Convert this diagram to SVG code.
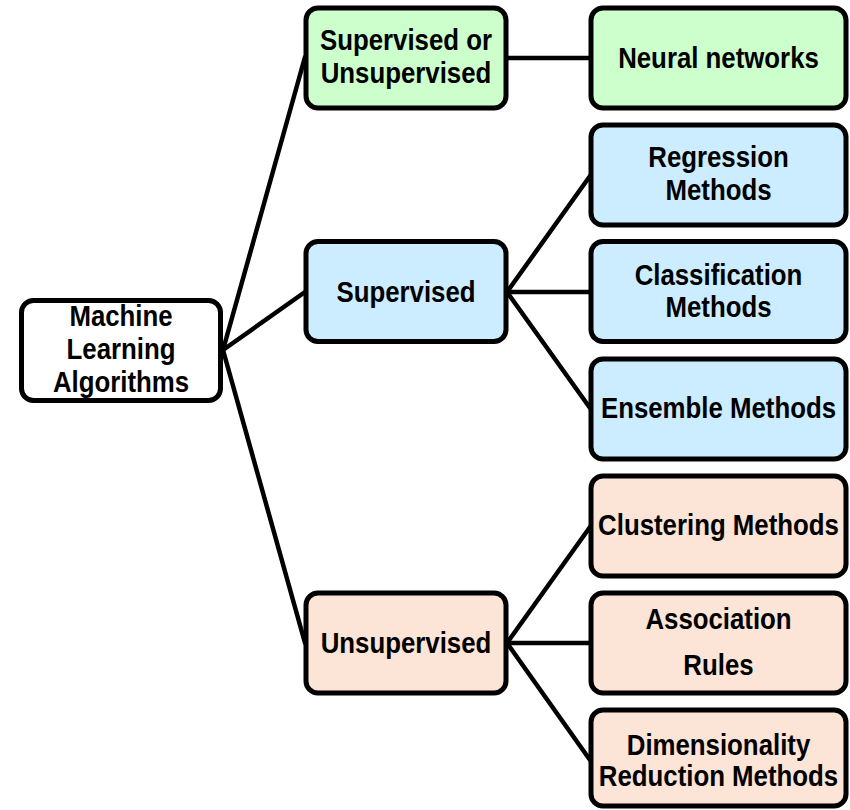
<svg xmlns="http://www.w3.org/2000/svg" width="850" height="810" viewBox="0 0 850 810">
<style>
.box{stroke:#000;stroke-width:5}
.root{fill:#FFFFFF}
.g{fill:#CCFFCC}
.b{fill:#CCECFF}
.p{fill:#FCE4D6}
.t{font-family:"Liberation Sans",Arial,sans-serif;font-weight:bold;font-size:29px;fill:#000;text-anchor:middle}
.c{stroke:#000;stroke-width:4.5;fill:none;stroke-linecap:round}
</style>
<rect width="850" height="810" fill="#FFFFFF"/>
<g id="connectors">
<line class="c" x1="223" y1="350" x2="305" y2="57"/>
<line class="c" x1="223" y1="350" x2="305" y2="292"/>
<line class="c" x1="223" y1="350" x2="305" y2="643"/>
<line class="c" x1="507" y1="58" x2="590" y2="58"/>
<line class="c" x1="507" y1="292" x2="590" y2="176"/>
<line class="c" x1="507" y1="292" x2="590" y2="292"/>
<line class="c" x1="507" y1="292" x2="590" y2="408"/>
<line class="c" x1="507" y1="643" x2="590" y2="527"/>
<line class="c" x1="507" y1="643" x2="590" y2="643"/>
<line class="c" x1="507" y1="643" x2="590" y2="760"/>
</g>
<g id="root">
<rect class="box root" x="21.5" y="300.5" width="199" height="100" rx="12"/>
<text class="t" transform="translate(121,0) scale(0.89,1)"><tspan x="0" y="326">Machine</tspan><tspan x="0" y="359">Learning</tspan><tspan x="0" y="392">Algorithms</tspan></text>
</g>
<g id="supervised-or-unsupervised">
<rect class="box g" x="306" y="8" width="200" height="100" rx="12"/>
<text class="t" transform="translate(406,0) scale(0.89,1)"><tspan x="0" y="50">Supervised or</tspan><tspan x="0" y="83">Unsupervised</tspan></text>
</g>
<g id="neural-networks">
<rect class="box g" x="591" y="8" width="255" height="100" rx="12"/>
<text class="t" transform="translate(718.5,0) scale(0.89,1)" x="0" y="68">Neural networks</text>
</g>
<g id="supervised">
<rect class="box b" x="306" y="241.5" width="200" height="100" rx="12"/>
<text class="t" transform="translate(406,0) scale(0.89,1)" x="0" y="302">Supervised</text>
</g>
<g id="regression">
<rect class="box b" x="591" y="125" width="255" height="100" rx="12"/>
<text class="t" transform="translate(718.5,0) scale(0.89,1)"><tspan x="0" y="167">Regression</tspan><tspan x="0" y="200">Methods</tspan></text>
</g>
<g id="classification">
<rect class="box b" x="591" y="241.5" width="255" height="100" rx="12"/>
<text class="t" transform="translate(718.5,0) scale(0.89,1)"><tspan x="0" y="285">Classification</tspan><tspan x="0" y="317">Methods</tspan></text>
</g>
<g id="ensemble">
<rect class="box b" x="591" y="359" width="255" height="100" rx="12"/>
<text class="t" transform="translate(718.5,0) scale(0.89,1)" x="0" y="418">Ensemble Methods</text>
</g>
<g id="unsupervised">
<rect class="box p" x="306" y="593" width="200" height="100" rx="12"/>
<text class="t" transform="translate(406,0) scale(0.89,1)" x="0" y="653">Unsupervised</text>
</g>
<g id="clustering">
<rect class="box p" x="591" y="476" width="255" height="100" rx="12"/>
<text class="t" transform="translate(718.5,0) scale(0.89,1)" x="0" y="535">Clustering Methods</text>
</g>
<g id="association">
<rect class="box p" x="591" y="593" width="255" height="100" rx="12"/>
<text class="t" transform="translate(718.5,0) scale(0.89,1)"><tspan x="0" y="629">Association</tspan><tspan x="0" y="675">Rules</tspan></text>
</g>
<g id="dimensionality">
<rect class="box p" x="591" y="710" width="255" height="96" rx="12"/>
<text class="t" transform="translate(718.5,0) scale(0.89,1)"><tspan x="0" y="755">Dimensionality</tspan><tspan x="0" y="786">Reduction Methods</tspan></text>
</g>
</svg>
